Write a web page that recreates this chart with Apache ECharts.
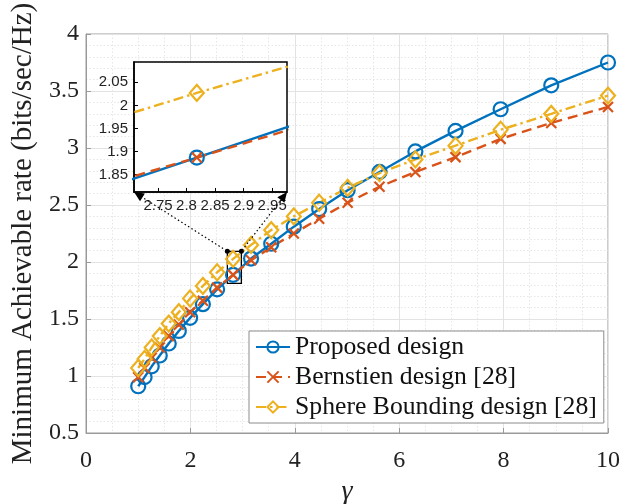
<!DOCTYPE html>
<html><head><meta charset="utf-8">
<script src="https://cdn.jsdelivr.net/npm/echarts@6/dist/echarts.min.js"></script>
<style>html,body{margin:0;padding:0;background:#fff}#c{width:636px;height:504px}</style>
</head><body><div id="c"></div>
<script>
// gamma values (0 to 10 dB in 0.5 dB steps)
const gammaValues = [1.000,1.122,1.259,1.413,1.585,1.778,1.995,2.239,2.512,2.818,3.162,3.548,3.981,4.467,5.012,5.623,6.310,7.079,7.943,8.913,10.000];
const proposedRate  = [0.91,0.99,1.085,1.18,1.285,1.395,1.51,1.63,1.76,1.887,2.03,2.16,2.31,2.465,2.63,2.79,2.97,3.15,3.34,3.55,3.75];
const bernsteinRate = [0.99,1.07,1.16,1.25,1.35,1.45,1.56,1.66,1.775,1.887,2.015,2.13,2.25,2.38,2.52,2.66,2.79,2.92,3.08,3.22,3.36];
const sphereRate    = [1.07,1.15,1.25,1.35,1.46,1.56,1.68,1.79,1.91,2.027,2.15,2.28,2.40,2.52,2.65,2.78,2.90,3.02,3.16,3.30,3.46];
const seriesNames = ['Proposed design','Bernstien design [28]','Sphere Bounding design [28]'];
const xTicks = [0,2,4,6,8,10];
const yTicks = [0.5,1,1.5,2,2.5,3,3.5,4];
const insetXTicks = [2.75,2.8,2.85,2.9,2.95];
const insetYTicks = [1.85,1.9,1.95,2,2.05];
const zoomX = [2.708, 2.976];
const zoomY = [1.8125, 2.094];

const colors = ['#0072BD','#D95319','#EDB120'];
const symbols = ['circle','path://M0,0L10,10M10,0L0,10','diamond'];
const symSizes = [14, 10, [14,16]];
const dashes = ['solid',[10,6],[10,4,2.5,4]];
const datasets = [proposedRate, bernsteinRate, sphereRate];
const serif = '"Liberation Serif", "DejaVu Serif", serif';
const sans = '"Liberation Sans", Arial, sans-serif';

function mk(i, g) {
  return {
    name: seriesNames[i], type: 'line',
    xAxisIndex: g, yAxisIndex: g,
    data: gammaValues.map((x, k) => [x, datasets[i][k]]),
    symbol: symbols[i], symbolSize: symSizes[i], showSymbol: true,
    lineStyle: { color: colors[i], width: 2.4, type: dashes[i] },
    itemStyle: { color: 'rgba(255,255,255,0)', borderColor: colors[i], borderWidth: 2.2 },
    emphasis: { disabled: true },
    animation: false, clip: true,
    z: g ? 6 : 2
  };
}

const chart = echarts.init(document.getElementById('c'), null, { renderer: 'canvas' });
const series = [mk(0,0), mk(1,0), mk(2,0), mk(0,1), mk(1,1), mk(2,1)];
series[0].markArea = {
  silent: true,
  itemStyle: { color: 'rgba(0,0,0,0)', borderColor: '#000', borderWidth: 1.3 },
  data: [[{ coord: [zoomX[0], zoomY[0]] }, { coord: [zoomX[1], zoomY[1]] }]]
};

const gridLine = { show: true, lineStyle: { color: '#e3e3e3', width: 1 } };
const minorLine = { show: true, lineStyle: { color: '#e6e6e6', width: 1, type: [1.5, 2] } };

chart.setOption({
  animation: false,
  backgroundColor: '#fff',
  grid: [
    { left: 86, right: 28, top: 34, bottom: 71, show: true, borderColor: '#9a9a9a', borderWidth: 1, z: 0,
      containLabel: false, outerBoundsMode: 'none' },
    { left: 134, top: 62, width: 153, height: 130, show: true, backgroundColor: '#fff', borderColor: '#000', borderWidth: 1.5, z: 4,
      containLabel: false, outerBoundsMode: 'none' }
  ],
  xAxis: [
    { type: 'value', gridIndex: 0, min: 0, max: 10, interval: 2,
      name: 'γ', nameLocation: 'middle', nameGap: 43,
      nameTextStyle: { fontFamily: serif, fontSize: 28, fontStyle: 'italic', color: '#222' },
      axisLine: { show: true, lineStyle: { color: '#9a9a9a' } },
      axisTick: { show: true, inside: true, length: 5, lineStyle: { color: '#9a9a9a' } },
      axisLabel: { fontFamily: serif, fontSize: 24, color: '#222', margin: 16,
                   customValues: xTicks },
      splitLine: gridLine,
      minorTick: { show: false, splitNumber: 4 },
      minorSplitLine: minorLine
    },
    { type: 'value', gridIndex: 1, min: zoomX[0], max: zoomX[1], z: 5,
      axisLine: { show: true, lineStyle: { color: '#000', width: 1.5 } },
      axisTick: { show: true, inside: true, length: 4, customValues: insetXTicks, lineStyle: { color: '#000' } },
      axisLabel: { fontFamily: sans, fontSize: 15, color: '#222', margin: 6, customValues: insetXTicks,
                   formatter: v => String(+v.toFixed(2)) },
      splitLine: { show: false }
    }
  ],
  yAxis: [
    { type: 'value', gridIndex: 0, min: 0.5, max: 4, interval: 0.5,
      name: 'Minimum Achievable rate (bits/sec/Hz)', nameLocation: 'middle', nameGap: 46,
      nameTextStyle: { fontFamily: serif, fontSize: 29, color: '#222' },
      axisLine: { show: true, lineStyle: { color: '#9a9a9a' } },
      axisTick: { show: true, inside: true, length: 5, lineStyle: { color: '#9a9a9a' } },
      axisLabel: { fontFamily: serif, fontSize: 24, color: '#222', margin: 7, customValues: yTicks },
      splitLine: gridLine,
      minorTick: { show: false, splitNumber: 5 },
      minorSplitLine: minorLine
    },
    { type: 'value', gridIndex: 1, min: zoomY[0], max: zoomY[1], z: 5,
      axisLine: { show: true, lineStyle: { color: '#000', width: 1.5 } },
      axisTick: { show: true, inside: true, length: 4, customValues: insetYTicks, lineStyle: { color: '#000' } },
      axisLabel: { fontFamily: sans, fontSize: 15, color: '#222', margin: 6, customValues: insetYTicks,
                   formatter: v => String(+v.toFixed(2)) },
      splitLine: { show: false }
    }
  ],
  legend: {
    data: seriesNames, orient: 'vertical', left: 249, top: 331,
    backgroundColor: '#fff', borderColor: '#8c8c8c', borderWidth: 1,
    padding: [3, 7, 3, 6], itemGap: 4, itemWidth: 34, itemHeight: 14,
    textStyle: { fontFamily: serif, fontSize: 25.7, lineHeight: 26, color: '#111' },
    z: 10
  },
  series: series
});

// connector lines from inset corners to zoom box corners
const pBL = chart.convertToPixel({ gridIndex: 1 }, [zoomX[0], zoomY[0]]);
const pBR = chart.convertToPixel({ gridIndex: 1 }, [zoomX[1], zoomY[0]]);
const qTL = chart.convertToPixel({ gridIndex: 0 }, [zoomX[0], zoomY[1]]);
const qTR = chart.convertToPixel({ gridIndex: 0 }, [zoomX[1], zoomY[1]]);
function arrow(p, q) {
  const dx = q[0] - p[0], dy = q[1] - p[1], L = Math.hypot(dx, dy);
  const ux = dx / L, uy = dy / L, bx = p[0] + ux * 10, by = p[1] + uy * 10;
  return { type: 'polygon', z: 20, silent: true,
    shape: { points: [p, [bx - uy * 4.5, by + ux * 4.5], [bx + uy * 4.5, by - ux * 4.5]] },
    style: { fill: '#000' } };
}
const els = [];
[[pBL, qTL], [pBR, qTR]].forEach(([p, q]) => {
  els.push({ type: 'line', z: 20, silent: true, shape: { x1: p[0], y1: p[1], x2: q[0], y2: q[1] },
    style: { stroke: '#000', lineWidth: 1.2, lineDash: [1.5, 2.5] } });
  els.push(arrow(p, q));
  els.push({ type: 'circle', z: 20, silent: true, shape: { cx: q[0], cy: q[1], r: 2.5 }, style: { fill: '#000' } });
});
chart.setOption({ graphic: els });
</script></body></html>
